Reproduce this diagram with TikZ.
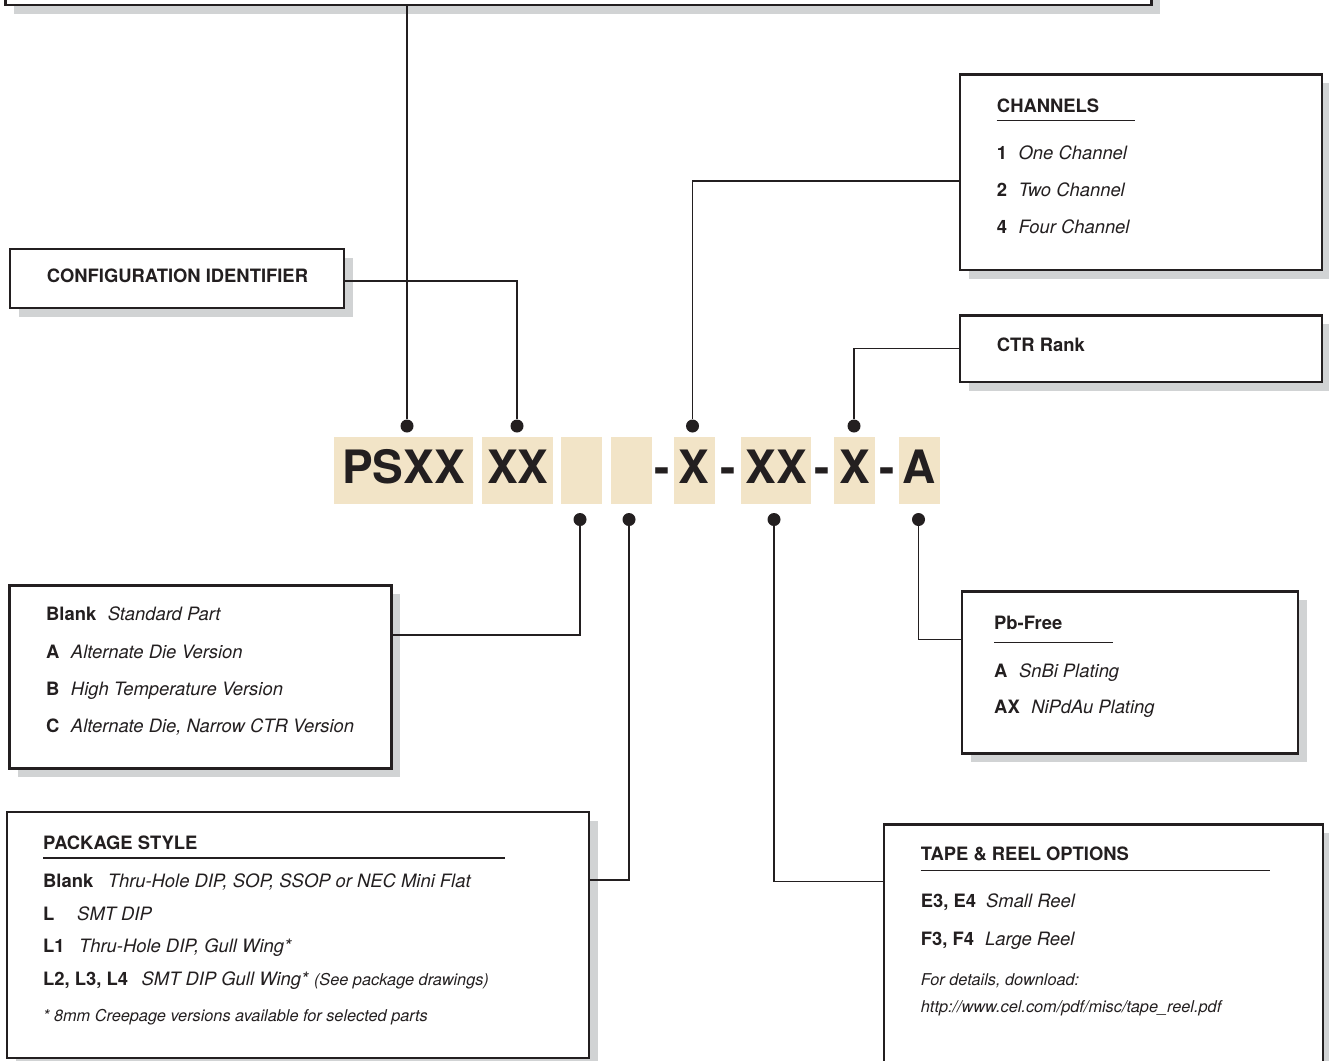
\documentclass[tikz,border=0pt]{standalone}
\usepackage{fontspec}
\setmainfont{TeX Gyre Heros}
\usetikzlibrary{positioning,shadows}
\definecolor{inkgrey}{HTML}{231F20}
\definecolor{codetan}{HTML}{F2E4C7}
\definecolor{shadowgrey}{HTML}{D1D3D4}
\tikzstyle{infobox} = [rectangle,draw=inkgrey,line width=2.6pt,fill=white,anchor=north west,inner sep=0pt,drop shadow={shadow xshift=9pt,shadow yshift=-9pt,fill=shadowgrey,opacity=1}]
\tikzstyle{entry} = [anchor=base west,inner sep=0pt,text=inkgrey,font=\fontsize{18.4}{22}\selectfont]
\tikzstyle{smallentry} = [anchor=base west,inner sep=0pt,text=inkgrey,font=\fontsize{16.3}{20}\selectfont\itshape]
\tikzstyle{codebox} = [rectangle,fill=codetan,minimum width=41pt,minimum height=67pt,inner sep=0pt,text=inkgrey,font=\fontsize{46}{50}\selectfont\bfseries,text height=33pt,text depth=8pt]
\tikzstyle{codedash} = [inner sep=0pt,text=inkgrey,font=\fontsize{46}{50}\selectfont\bfseries,text height=33pt,text depth=8pt]
\tikzstyle{dot} = [circle,fill=inkgrey,inner sep=0pt,minimum size=13pt]
\tikzstyle{link} = [draw=inkgrey,line width=1.1pt]
\newcommand{\gapa}{\hspace{11.5pt}}
\newcommand{\gapb}{\hspace{14.5pt}}

\begin{document}
\begin{tikzpicture}[x=1pt,y=-1pt]
\useasboundingbox (0,0) rectangle (1329,1060);
% boxes
\node (family) [infobox,minimum width=1146pt,minimum height=63.5pt] at (4,-60) {};
\node (config) [infobox,minimum width=334pt,minimum height=59pt] at (8.5,247.5) {};
\node (chan) [infobox,minimum width=362pt,minimum height=195.5pt] at (958.5,73) {};
\node (ctr) [infobox,minimum width=362pt,minimum height=66.5pt] at (958.5,314) {};
\node (die) [infobox,minimum width=382pt,minimum height=183pt] at (8,584) {};
\node (pkg) [infobox,minimum width=582pt,minimum height=246pt] at (5.5,810.5) {};
\node (pb) [infobox,minimum width=336pt,minimum height=162pt] at (960.5,590) {};
\node (tape) [infobox,minimum width=439pt,minimum height=260pt] at (882.5,823) {};

% part number
\node (psxx) [codebox,minimum width=139pt] at (403.5,470.5) {PSXX};
\node (xx) [codebox,minimum width=71pt,right=9pt of psxx] {XX};
\node (blanka) [codebox,right=7pt of xx] {};
\node (blankb) [codebox,right=9pt of blanka] {};
\node (ch) [codebox,right=21pt of blankb] {X};
\node (tr) [codebox,minimum width=70pt,right=26pt of ch] {XX};
\node (rank) [codebox,right=23pt of tr] {X};
\node (lead) [codebox,right=23pt of rank] {A};
\node (dasha) [codedash] at (662,470.5) {-};
\node (dashb) [codedash] at (728,470.5) {-};
\node (dashc) [codedash] at (822,470.5) {-};
\node (dashd) [codedash] at (887,470.5) {-};

% dots
\node (dPS) [dot] at (407,426) {};
\node (dXX) [dot] at (517,426) {};
\node (dCh) [dot] at (692.5,426) {};
\node (dRank) [dot] at (854,426) {};
\node (dDie) [dot] at (580,519.5) {};
\node (dPkg) [dot] at (629,519.5) {};
\node (dTape) [dot] at (774,519.5) {};
\node (dPb) [dot] at (918.5,519.5) {};

% texts
\node (configtxt) [entry] at (46.7,282) {\textbf{CONFIGURATION IDENTIFIER}};

\node (chanhead) [entry] at (996.7,112) {\textbf{CHANNELS}};
\node (chan1) [entry] at (996.7,159.5) {\textbf{1}\gapa\textit{One Channel}};
\node (chan2) [entry] at (996.7,196.5) {\textbf{2}\gapa\textit{Two Channel}};
\node (chan4) [entry] at (996.7,233) {\textbf{4}\gapa\textit{Four Channel}};

\node (ctrtxt) [entry] at (996.7,351) {\textbf{CTR Rank}};

\node (die0) [entry] at (46,620) {\textbf{Blank}\gapa\textit{Standard Part}};
\node (diea) [entry] at (46,658) {\textbf{A}\gapa\textit{Alternate Die Version}};
\node (dieb) [entry] at (46,695) {\textbf{B}\gapa\textit{High Temperature Version}};
\node (diec) [entry] at (46,732.3) {\textbf{C}\gapa\textit{Alternate Die, Narrow CTR Version}};

\node (pkghead) [entry] at (43,849) {\textbf{PACKAGE STYLE}};
\node (pkg0) [entry] at (43,887) {\textbf{Blank}\gapb\textit{Thru-Hole DIP, SOP, SSOP or NEC Mini Flat}};
\node (pkgl) [entry] at (43,920) {\textbf{L}\hspace{22.8pt}\textit{SMT DIP}};
\node (pkgla) [entry] at (43,952) {\textbf{L1}\gapb\textit{Thru-Hole DIP, Gull Wing*}};
\node (pkglb) [entry] at (43,985) {\textbf{L2, L3, L4}\hspace{13.6pt}\textit{SMT DIP Gull Wing*} {\fontsize{16.3}{20}\selectfont\itshape(See package drawings)}};
\node (pkgnote) [smallentry] at (43,1021) {* 8mm Creepage versions available for selected parts};

\node (pbhead) [entry] at (994,629) {\textbf{Pb-Free}};
\node (pba) [entry] at (994,677.3) {\textbf{A}\gapa\textit{SnBi Plating}};
\node (pbax) [entry] at (994,713.3) {\textbf{AX}\gapa\textit{NiPdAu Plating}};

\node (tapehead) [entry] at (920.7,860) {\textbf{TAPE \& REEL OPTIONS}};
\node (tapee) [entry] at (920.7,907.7) {\textbf{E3, E4}\hspace{10pt}\textit{Small Reel}};
\node (tapef) [entry] at (920.7,945) {\textbf{F3, F4}\hspace{11pt}\textit{Large Reel}};
\node (tapenote) [smallentry] at (920.7,985) {For details, download:};
\node (tapeurl) [smallentry] at (920.7,1012.7) {http://www.cel.com/pdf/misc/tape\_reel.pdf};

% header rules
\draw [link] ([yshift=-8.5pt]chanhead.base west) -- ++(138.3,0);
\draw [link] ([yshift=-9pt]pkghead.base west) -- ++(461.5,0);
\draw [link] ([yshift=-13.3pt]pbhead.base west) -- ++(118.7,0);
\draw [link] ([yshift=-10.7pt]tapehead.base west) -- ++(349.3,0);

% connectors
\draw [link] (dPS) -- (dPS |- family.south);
\draw [link] ([yshift=-33.5pt]config.north east) -| (dXX);
\draw [link] ([yshift=-108pt]chan.north west) -| (dCh);
\draw [link] (ctr.west) -| (dRank);
\draw [link] ([yshift=-51pt]die.north east) -| (dDie);
\draw [link] ([yshift=-69.5pt]pkg.north east) -| (dPkg);
\draw [link] ([yshift=-58.5pt]tape.north west) -| (dTape);
\draw [link] ([yshift=-49.5pt]pb.north west) -| (dPb);
\end{tikzpicture}
\end{document}
